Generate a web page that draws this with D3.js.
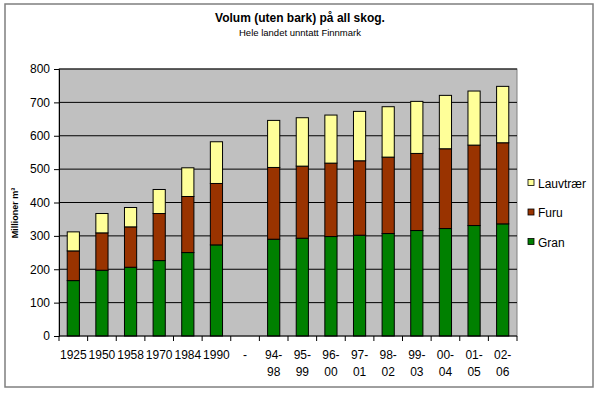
<!DOCTYPE html>
<html>
<head>
<meta charset="utf-8">
<script src="https://cdn.jsdelivr.net/npm/d3@7"></script>
<style>
  body { margin: 0; background: #fff; }
  text { font-family: Arial, "Liberation Sans", sans-serif; fill: #000; }
</style>
</head>
<body>
<div id="chart"></div>
<script>
const periods = ["1925", "1950", "1958", "1970", "1984", "1990", "-",
  "94-\n98", "95-\n99", "96-\n00", "97-\n01", "98-\n02", "99-\n03", "00-\n04", "01-\n05", "02-\n06"]

// null for the empty "-" slot
const gran     = [166, 197, 206, 226, 250, 273, null, 290, 293, 298, 302, 307, 316, 322, 331, 336]
const furu     = [89, 112, 121, 141, 168, 184, null, 215, 216, 220, 223, 229, 231, 239, 241, 243]
const lauvtrar = [57, 58, 58, 72, 86, 125, null, 141, 145, 144, 148, 151, 156, 160, 162, 169]

const series = ["Gran", "Furu", "Lauvtrær"]
const colors = ["#008000", "#993300", "#ffff99"]
const yTicks = [0, 100, 200, 300, 400, 500, 600, 700, 800]

const fullWidth = 600
const fullHeight = 393
const margin = { top: 69, right: 83, bottom: 57, left: 59 }
const width = fullWidth - margin.left - margin.right
const height = fullHeight - margin.top - margin.bottom

const rows = periods.map((p, i) => ({ period: p, Gran: gran[i], Furu: furu[i], "Lauvtrær": lauvtrar[i] }))
const stacked = d3.stack().keys(series)(rows.filter(r => r.Gran != null))

const svg = d3.select("#chart").append("svg")
  .attr("width", fullWidth)
  .attr("height", fullHeight)

// outer frame
svg.append("rect")
  .attr("x", 5).attr("y", 4)
  .attr("width", 588).attr("height", 383)
  .attr("fill", "#fff")
  .attr("stroke", "#7f7f7f")
  .attr("stroke-width", 1.5)

svg.append("text")
  .attr("x", 300).attr("y", 22)
  .attr("text-anchor", "middle")
  .style("font-size", "12px").style("font-weight", "bold")
  .text("Volum (uten bark) på all skog.")

svg.append("text")
  .attr("x", 300).attr("y", 36)
  .attr("text-anchor", "middle")
  .style("font-size", "9.5px")
  .text("Hele landet unntatt Finnmark")

const g = svg.append("g").attr("transform", `translate(${margin.left},${margin.top})`)

const x = d3.scaleBand().domain(periods).range([0, width])
const y = d3.scaleLinear().domain([0, 800]).range([height, 0])
const barW = x.bandwidth() / 2.35

g.append("rect")
  .attr("width", width).attr("height", height)
  .attr("fill", "#c0c0c0")
  .attr("stroke", "#808080")

g.append("g")
  .selectAll("line")
  .data(yTicks.slice(1))
  .join("line")
  .attr("x1", 0).attr("x2", width)
  .attr("y1", d => y(d)).attr("y2", d => y(d))
  .attr("stroke", "#000")
  .attr("stroke-width", 1)

g.append("g")
  .selectAll("g")
  .data(stacked)
  .join("g")
  .attr("fill", (d, i) => colors[i])
  .selectAll("rect")
  .data(d => d)
  .join("rect")
  .attr("x", d => x(d.data.period) + (x.bandwidth() - barW) / 2)
  .attr("width", barW)
  .attr("y", d => y(d[1]))
  .attr("height", d => y(d[0]) - y(d[1]))
  .attr("stroke", "#000")
  .attr("stroke-width", 1)

// y axis
const yAxis = g.append("g")
  .call(d3.axisLeft(y).tickValues(yTicks).tickSize(5).tickPadding(4))
yAxis.select(".domain").attr("stroke", "#000")
yAxis.selectAll("text").style("font-size", "12px").style("font-family", "Arial, 'Liberation Sans', sans-serif")

// x axis: ticks at band edges
const xg = g.append("g").attr("transform", `translate(0,${height})`)
xg.append("line").attr("x1", 0).attr("x2", width).attr("stroke", "#000")
xg.selectAll("line.tick")
  .data(periods.concat(["end"]))
  .join("line")
  .classed("tick", true)
  .attr("x1", (d, i) => i * x.step()).attr("x2", (d, i) => i * x.step())
  .attr("y1", 0).attr("y2", 5)
  .attr("stroke", "#000")

xg.selectAll("text")
  .data(periods)
  .join("text")
  .attr("text-anchor", "middle")
  .style("font-size", "12px")
  .attr("transform", d => `translate(${x(d) + x.bandwidth() / 2},23)`)
  .each(function (d) {
    d.split("\n").forEach((line, k) => {
      d3.select(this).append("tspan")
        .attr("x", 0).attr("dy", k ? 17 : 0)
        .text(line)
    })
  })

// y title
svg.append("text")
  .attr("transform", "translate(18,213) rotate(-90)")
  .attr("text-anchor", "middle")
  .style("font-size", "9px").style("font-weight", "bold")
  .text("Millioner m³")

// legend
const legend = svg.append("g").attr("transform", "translate(528,0)")
const legendItems = series.slice().reverse()
legend.selectAll("g")
  .data(legendItems)
  .join("g")
  .attr("transform", (d, i) => `translate(0,${183 + i * 29.5})`)
  .each(function (d) {
    const item = d3.select(this)
    item.append("rect")
      .attr("x", 0).attr("y", -3.5)
      .attr("width", 6).attr("height", 6)
      .attr("fill", colors[series.indexOf(d)])
      .attr("stroke", "#000")
      .attr("stroke-width", 0.8)
    item.append("text")
      .attr("x", 10).attr("y", 4.5)
      .style("font-size", "12px")
      .text(d)
  })
</script>
</body>
</html>
